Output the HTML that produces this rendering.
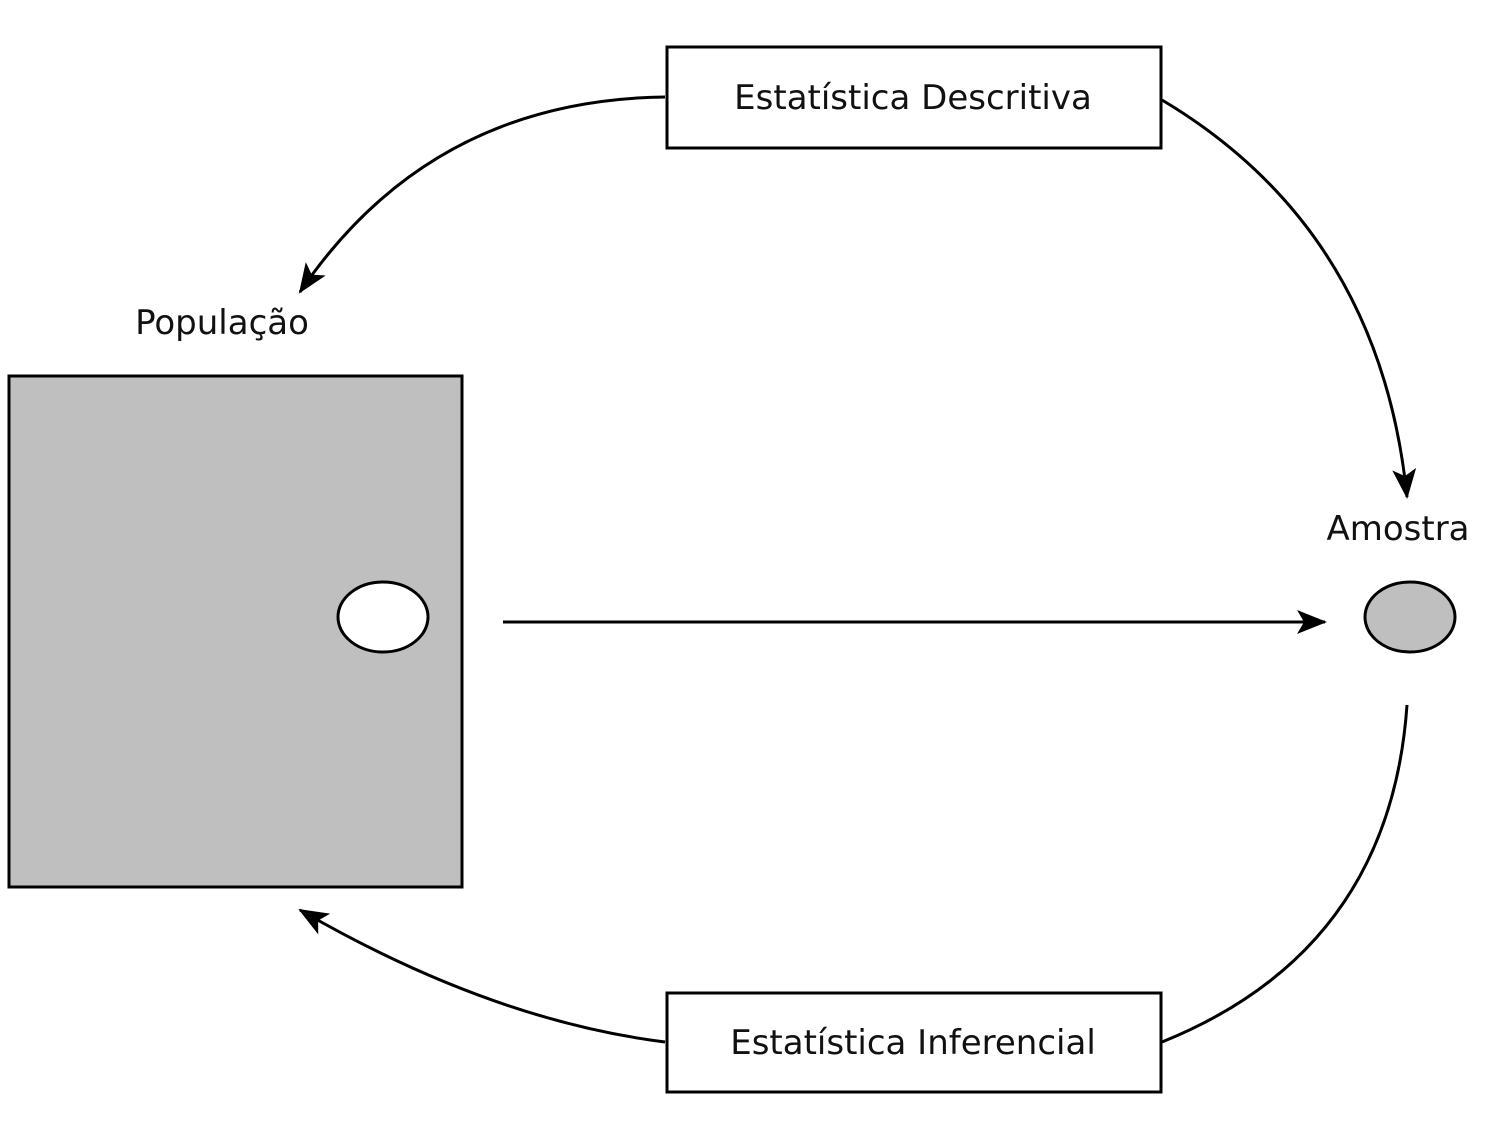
<!DOCTYPE html>
<html><head><meta charset="utf-8"><style>
html,body{margin:0;padding:0;background:#fff;}
svg{display:block;}
text{font-family:"DejaVu Sans","Liberation Sans",sans-serif;font-size:34px;fill:#111;}
</style></head><body>
<svg width="1488" height="1144" viewBox="0 0 1488 1144" xmlns="http://www.w3.org/2000/svg">
<defs>
<marker id="b" viewBox="0 0 30 24" refX="28" refY="12" markerWidth="30" markerHeight="24" markerUnits="userSpaceOnUse" orient="auto">
<path d="M0,0 L30,12 L0,24 L7,12 Z" fill="#000"/>
</marker>
</defs>
<rect x="9" y="376" width="453" height="511" fill="#bfbfbf" stroke="#000" stroke-width="3"/>
<ellipse cx="383" cy="617" rx="45" ry="35" fill="#fff" stroke="#000" stroke-width="3"/>
<ellipse cx="1410" cy="617" rx="45" ry="35" fill="#bfbfbf" stroke="#000" stroke-width="3"/>
<rect x="667" y="47" width="494" height="101" fill="#fff" stroke="#000" stroke-width="3"/>
<rect x="667" y="993" width="494" height="99" fill="#fff" stroke="#000" stroke-width="3"/>
<text x="913" y="109" text-anchor="middle">Estatística Descritiva</text>
<text x="913" y="1054" text-anchor="middle">Estatística Inferencial</text>
<text x="222" y="334" text-anchor="middle">População</text>
<text x="1398" y="540" text-anchor="middle">Amostra</text>
<line x1="503" y1="622" x2="1325" y2="622" stroke="#000" stroke-width="3" marker-end="url(#b)"/>
<path d="M665,97 Q430,100 300,292" fill="none" stroke="#000" stroke-width="3" marker-end="url(#b)"/>
<path d="M1162,100 Q1380,230 1407,497" fill="none" stroke="#000" stroke-width="3" marker-end="url(#b)"/>
<path d="M1407,705 Q1390,950 1162,1042" fill="none" stroke="#000" stroke-width="3"/>
<path d="M665,1042 Q490,1020 300,910" fill="none" stroke="#000" stroke-width="3" marker-end="url(#b)"/>
</svg>
</body></html>
